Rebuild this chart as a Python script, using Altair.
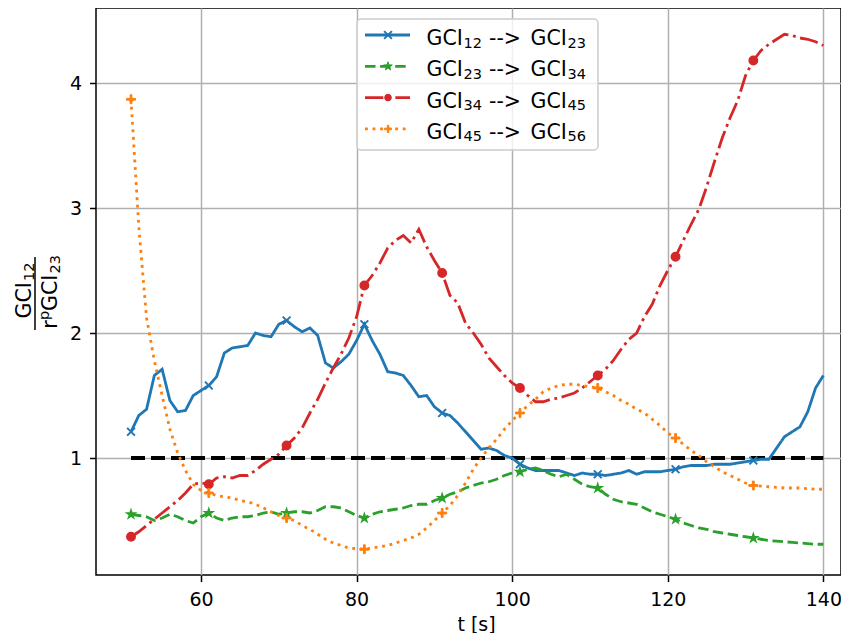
import altair as alt
import pandas as pd

# ---- data -------------------------------------------------------------
t_values = list(range(51, 141))

series_names = [
    "GCI₁₂ --> GCI₂₃",
    "GCI₂₃ --> GCI₃₄",
    "GCI₃₄ --> GCI₄₅",
    "GCI₄₅ --> GCI₅₆",
]
# legend label pieces: (main, subscript, main, subscript)
legend_subs = [("12", "23"), ("23", "34"), ("34", "45"), ("45", "56")]

gci12_23 = [
    1.21, 1.34, 1.39, 1.66, 1.71, 1.46, 1.37, 1.38, 1.50, 1.54,
    1.58, 1.65, 1.84, 1.88, 1.89, 1.90, 2.00, 1.98, 1.97, 2.07,
    2.10, 2.05, 2.01, 2.04, 1.98, 1.76, 1.72, 1.77, 1.83, 1.94,
    2.07, 1.94, 1.83, 1.69, 1.68, 1.66, 1.58, 1.49, 1.50, 1.41,
    1.36, 1.34, 1.28, 1.21, 1.14, 1.07, 1.08, 1.06, 1.02, 1.00,
    0.95, 0.92, 0.90, 0.90, 0.90, 0.90, 0.88, 0.86, 0.88, 0.87,
    0.87, 0.86, 0.87, 0.88, 0.90, 0.87, 0.89, 0.89, 0.89, 0.90,
    0.91, 0.93, 0.94, 0.94, 0.94, 0.95, 0.95, 0.95, 0.96, 0.97,
    0.98, 0.99, 0.99, 1.08, 1.17, 1.21, 1.25, 1.37, 1.56, 1.66,
]
gci23_34 = [
    0.55, 0.54, 0.53, 0.50, 0.52, 0.55, 0.53, 0.50, 0.48, 0.53,
    0.56, 0.52, 0.50, 0.52, 0.53, 0.53, 0.54, 0.56, 0.57, 0.55,
    0.56, 0.57, 0.57, 0.56, 0.58, 0.61, 0.61, 0.60, 0.57, 0.54,
    0.52, 0.55, 0.57, 0.58, 0.59, 0.60, 0.62, 0.63, 0.63, 0.66,
    0.68, 0.71, 0.73, 0.76, 0.78, 0.80, 0.81, 0.83, 0.86, 0.88,
    0.89, 0.91, 0.92, 0.90, 0.87, 0.85, 0.87, 0.83, 0.79, 0.77,
    0.76, 0.71, 0.67, 0.65, 0.64, 0.63, 0.60, 0.57, 0.55, 0.53,
    0.51, 0.48, 0.46, 0.44, 0.43, 0.41, 0.40, 0.39, 0.38, 0.37,
    0.36, 0.35, 0.34, 0.335, 0.33, 0.325, 0.32, 0.315, 0.31, 0.31,
]
gci34_45 = [
    0.37, 0.41, 0.46, 0.51, 0.56, 0.61, 0.66, 0.72, 0.79, 0.80,
    0.79, 0.84, 0.85, 0.84, 0.86, 0.86, 0.90, 0.95, 0.99, 1.03,
    1.10, 1.16, 1.24, 1.36, 1.47, 1.60, 1.72, 1.83, 1.96, 2.13,
    2.38, 2.46, 2.56, 2.68, 2.74, 2.78, 2.72, 2.83, 2.69, 2.58,
    2.48, 2.30, 2.24, 2.08, 2.00, 1.91, 1.80, 1.73, 1.66, 1.60,
    1.56, 1.50, 1.45, 1.45, 1.47, 1.48, 1.50, 1.52, 1.56, 1.61,
    1.66, 1.71, 1.78, 1.87, 1.95, 2.00, 2.13, 2.23, 2.38, 2.50,
    2.61, 2.74, 2.87, 2.99, 3.17, 3.37, 3.56, 3.72, 3.86, 4.06,
    4.18, 4.26, 4.31, 4.35, 4.39, 4.38, 4.36, 4.35, 4.33, 4.30,
]
gci45_56 = [
    3.87, 2.85, 2.12, 1.78, 1.50, 1.23, 1.04, 0.90, 0.79, 0.74,
    0.72, 0.70, 0.69, 0.68, 0.66, 0.65, 0.63, 0.60, 0.57, 0.54,
    0.52, 0.50, 0.46, 0.43, 0.39, 0.35, 0.32, 0.30, 0.28, 0.275,
    0.27, 0.28, 0.29, 0.30, 0.32, 0.34, 0.36, 0.39, 0.44, 0.50,
    0.56, 0.62, 0.70, 0.80, 0.91, 1.00, 1.08, 1.15, 1.23, 1.30,
    1.36, 1.42, 1.47, 1.53, 1.56, 1.58, 1.59, 1.59, 1.58, 1.57,
    1.56, 1.53, 1.50, 1.46, 1.43, 1.39, 1.36, 1.31, 1.26, 1.20,
    1.16, 1.11, 1.06, 1.02, 0.97, 0.93, 0.89, 0.86, 0.83, 0.80,
    0.78, 0.775, 0.77, 0.765, 0.76, 0.76, 0.76, 0.755, 0.75, 0.75,
]

ref_t = [51, 140]
ref_y = [1.0, 1.0]

x_ticks = [60, 80, 100, 120, 140]
y_ticks = [1, 2, 3, 4]

# ---- styles ---------------------------------------------------------
colors = ["#1f77b4", "#2ca02c", "#d62728", "#ff7f0e"]
dashes = [[1, 0], [10.5, 4.6], [18.3, 4.6, 2.85, 4.6], [2.85, 4.7]]
X_PATH = "M-1,-1L1,1M-1,1L1,-1"
STAR_PATH = ("M0,-1L0.2245,-0.309L0.951,-0.309L0.363,0.118L0.588,0.809L0,0.382"
             "L-0.588,0.809L-0.363,0.118L-0.951,-0.309L-0.2245,-0.309Z")
PLUS_PATH = "M-1,-0.2H-0.2V-1H0.2V-0.2H1V0.2H0.2V1H-0.2V0.2H-1Z"
shapes = [X_PATH, STAR_PATH, "circle", PLUS_PATH]
fills = ["transparent", colors[1], colors[2], colors[3]]
sizes = [60, 80, 44, 52]
mstrokes = [2.0, 1.0, 1.0, 1.0]
FONT = "DejaVu Sans"
FS = 20.5
SUB = 14.5

rows = []
for name, vals in zip(series_names, [gci12_23, gci23_34, gci34_45, gci45_56]):
    for t, v in zip(t_values, vals):
        rows.append({"t": t, "value": v, "series": name})
df = pd.DataFrame(rows)
ref_df = pd.DataFrame({"t": ref_t, "value": ref_y})

x_scale = alt.Scale(domain=[46.5, 142.27], nice=False, zero=False)
y_scale = alt.Scale(domain=[0.064, 4.6], nice=False, zero=False)
color_scale = alt.Scale(domain=series_names, range=colors)
dash_scale = alt.Scale(domain=series_names, range=dashes)

x_axis = alt.Axis(values=x_ticks, title="t [s]", grid=True, domain=False,
                  titleX=380, titleY=55, titleBaseline="alphabetic",
                  labelPadding=9)
y_axis = alt.Axis(values=y_ticks, title=None, grid=True, domain=False,
                  labelPadding=8)

ref_line = alt.Chart(ref_df).mark_line(
    color="black", strokeWidth=3.8, strokeDash=[14, 6]
).encode(
    x=alt.X("t:Q", scale=x_scale, axis=x_axis),
    y=alt.Y("value:Q", scale=y_scale, axis=y_axis),
)

lines = alt.Chart(df).mark_line(strokeWidth=2.8).encode(
    x=alt.X("t:Q", scale=x_scale, axis=x_axis),
    y=alt.Y("value:Q", scale=y_scale, axis=y_axis),
    color=alt.Color("series:N", scale=color_scale, legend=None),
    strokeDash=alt.StrokeDash("series:N", scale=dash_scale, legend=None),
)

markers = alt.Chart(df).transform_filter(
    "(datum.t - 51) % 10 == 0"
).mark_point(opacity=1, fillOpacity=1).encode(
    x=alt.X("t:Q", scale=x_scale, axis=x_axis),
    y=alt.Y("value:Q", scale=y_scale, axis=y_axis),
    stroke=alt.Stroke("series:N", scale=color_scale, legend=None),
    fill=alt.Fill("series:N", scale=alt.Scale(domain=series_names, range=fills), legend=None),
    shape=alt.Shape("series:N", scale=alt.Scale(domain=series_names, range=shapes), legend=None),
    size=alt.Size("series:N", scale=alt.Scale(domain=series_names, range=sizes), legend=None),
    strokeWidth=alt.StrokeWidth("series:N", scale=alt.Scale(domain=series_names, range=mstrokes), legend=None),
)

one = pd.DataFrame({"k": [0]})


def txt(s, x, y, size, angle=0, align="left"):
    props = dict(align=align, baseline="alphabetic", font=FONT, fontSize=size, color="black")
    if angle:
        props["angle"] = angle
    return alt.Chart(pd.DataFrame({"s": [s]})).mark_text(**props).encode(
        x=alt.value(x), y=alt.value(y), text="s:N")


# legend frame
legend_layers = [
    alt.Chart(one).mark_rect(cornerRadius=4, fill="white", fillOpacity=0.8,
                             stroke="#cccccc", strokeWidth=1.5).encode(
        x=alt.value(261), x2=alt.value(502), y=alt.value(11), y2=alt.value(142)
    )
]
for i, name in enumerate(series_names):
    ry = 27 + 31.3 * i
    legend_layers.append(
        alt.Chart(one).mark_rule(strokeWidth=2.8, color=colors[i], strokeDash=dashes[i]).encode(
            x=alt.value(269), x2=alt.value(314), y=alt.value(ry)
        )
    )
    legend_layers.append(
        alt.Chart(one).mark_point(shape=shapes[i], size=sizes[i], stroke=colors[i],
                                  fill=fills[i], strokeWidth=mstrokes[i], opacity=1,
                                  fillOpacity=1).encode(
            x=alt.value(292), y=alt.value(ry)
        )
    )
    s1, s2 = legend_subs[i]
    base = ry + 10
    legend_layers += [
        txt("GCI", 330.5, base, FS),
        txt(s1, 367.5, base + 2.5, SUB),
        txt("-->", 409.0, base, FS, align="center"),
        txt("GCI", 434.5, base, FS),
        txt(s2, 471.5, base + 2.5, SUB),
    ]

# y-axis label as a fraction (rotated)
ylab = [
    txt("GCI", -65, 310.5, FS, 270),
    txt("12", -62.5, 273.0, SUB, 270),
    txt("r", -39, 320.7, FS, 270),
    txt("p", -47, 312.0, SUB, 270),
    txt("GCI", -39, 303.0, FS, 270),
    txt("23", -36.5, 265.5, SUB, 270),
    alt.Chart(one).mark_rule(color="black", strokeWidth=1.5).encode(
        x=alt.value(-61), y=alt.value(249), y2=alt.value(322)
    ),
]

chart = alt.layer(ref_line, lines, markers, *legend_layers, *ylab).properties(
    width=745, height=567,
    autosize=alt.AutoSizeParams(type="none"),
    padding={"left": 88, "top": 0, "right": 0, "bottom": 58},
).configure_view(
    stroke="black", strokeWidth=1.5
).configure_axis(
    gridColor="#b0b0b0", gridWidth=1.5, gridOpacity=1,
    tickColor="black", tickWidth=1.5, tickSize=6.5,
    labelFont=FONT, labelFontSize=19, labelColor="black",
    titleFont=FONT, titleFontSize=19, titleFontWeight="normal", titleColor="black",
)

chart.save("out.html", embed_options={"renderer": "svg", "actions": False})
